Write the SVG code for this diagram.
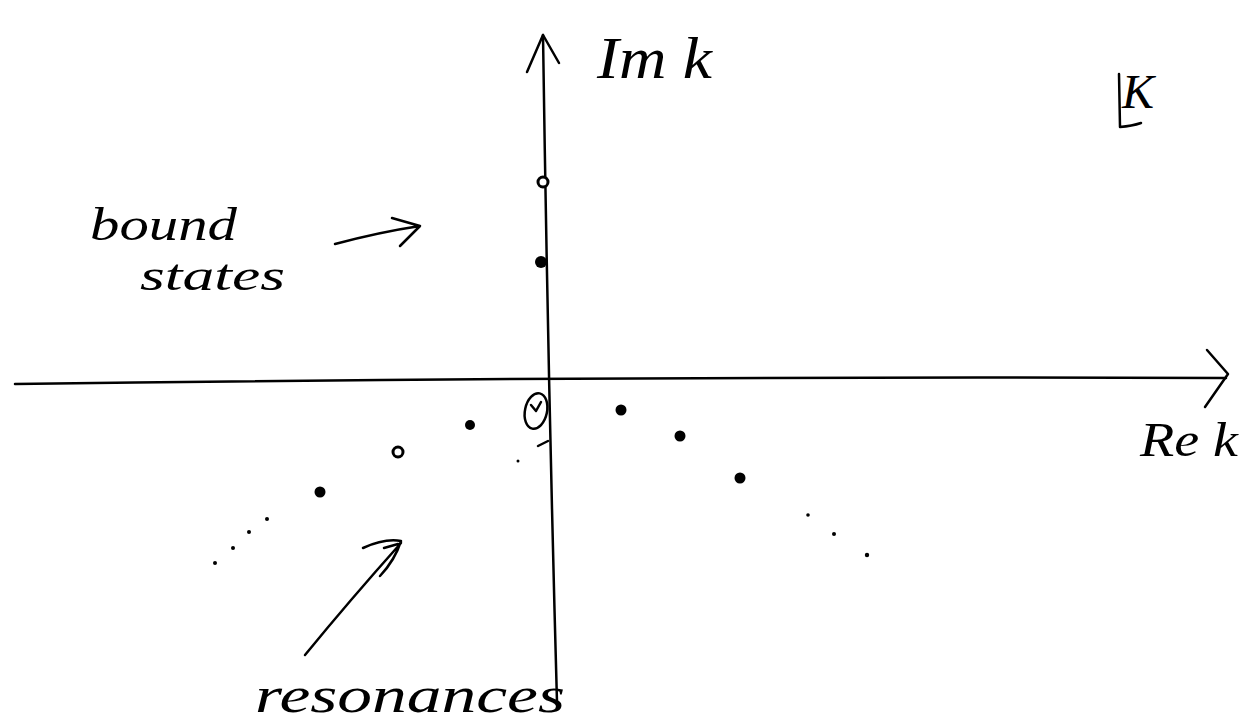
<svg xmlns="http://www.w3.org/2000/svg" width="1253" height="727" viewBox="0 0 1253 727">
<style>
.ln{fill:none;stroke:#000;stroke-width:2.5;stroke-linecap:round;stroke-linejoin:round}
.tx{font-family:"Liberation Serif",serif;font-style:italic;fill:#000}
.pole{fill:#000}
.open{fill:#fff;stroke:#000;stroke-width:3}
.sm{fill:#000}
</style>
<rect width="1253" height="727" fill="#fff"/>
<g id="connectors">
<path class="ln" d="M15 384 Q600 376 1226 378"/>
<path class="ln" d="M1207 350 L1228 374 L1205 407"/>
<path class="ln" d="M543 35 Q548 380 557 702"/>
<path class="ln" d="M527 72 L543 35 L559 63"/>
<path class="ln" d="M335 244 Q380 232 420 226 M392 218 L420 226 L400 246"/>
<path class="ln" d="M305 655 Q350 600 401 543 M363 548 Q385 538 401 541 Q395 560 380 576 M384 548 L398 544"/>
<path class="ln" d="M1119 74 L1120 127 Q1132 126 1141 123"/>
</g>
<g id="axis-labels">
<text class="tx" x="597" y="78" font-size="60" textLength="115" lengthAdjust="spacingAndGlyphs">Im k</text>
<text class="tx" x="1122" y="108" font-size="48">K</text>
<text class="tx" x="1140" y="456" font-size="48" textLength="98" lengthAdjust="spacingAndGlyphs">Re k</text>
</g>
<g id="origin">
<ellipse cx="536" cy="411" rx="11" ry="18" fill="none" stroke="#000" stroke-width="2.5" transform="rotate(12 536 411)"/>
<path class="ln" d="M531 405 L536 411 L541 402"/>
</g>
<g id="bound-states">
<circle class="open" cx="543" cy="182" r="5"/>
<circle class="pole" cx="541" cy="262" r="6"/>
<text class="tx" x="90" y="240" font-size="46" textLength="147" lengthAdjust="spacingAndGlyphs">bound</text>
<text class="tx" x="140" y="290" font-size="44" textLength="145" lengthAdjust="spacingAndGlyphs">states</text>
</g>
<g id="resonances">
<circle class="pole" cx="320" cy="492" r="5.5"/>
<circle class="open" cx="398" cy="452" r="5"/>
<circle class="pole" cx="470" cy="425" r="5"/>
<circle class="pole" cx="621" cy="410" r="5.5"/>
<circle class="pole" cx="680" cy="436" r="5.5"/>
<circle class="pole" cx="740" cy="478" r="5.5"/>
<circle class="sm" cx="215" cy="563" r="2"/>
<circle class="sm" cx="233" cy="548" r="2"/>
<circle class="sm" cx="249" cy="532" r="2"/>
<circle class="sm" cx="267" cy="519" r="2"/>
<circle class="sm" cx="808" cy="515" r="1.8"/>
<circle class="sm" cx="834" cy="534" r="2"/>
<circle class="sm" cx="867" cy="555" r="2.2"/>
<circle class="sm" cx="518" cy="461" r="1.5"/>
<path class="ln" d="M538 446 L548 441" stroke-width="1.5"/>
<text class="tx" x="255" y="712" font-size="50" textLength="310" lengthAdjust="spacingAndGlyphs">resonances</text>
</g>
</svg>
